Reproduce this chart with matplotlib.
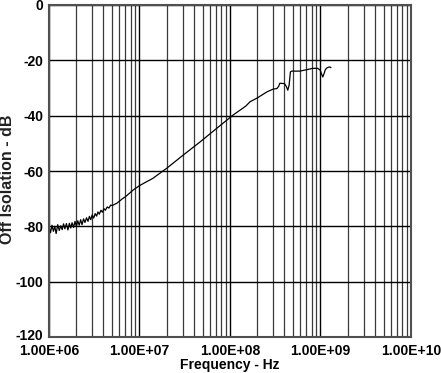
import matplotlib
matplotlib.use("Agg")
import matplotlib.pyplot as plt
from matplotlib.ticker import FixedLocator, FuncFormatter
from matplotlib.transforms import ScaledTranslation

plt.rcParams["font.family"] = ["Liberation Sans", "DejaVu Sans"]

# measured trace: frequency in MHz, off isolation in dB
freq_mhz = [
    1.00, 1.04, 1.08, 1.12, 1.16, 1.20, 1.25, 1.30, 1.35, 1.40, 1.45, 1.50,
    1.56, 1.62, 1.68, 1.74, 1.80, 1.87, 1.94, 2.01, 2.08, 2.16, 2.24, 2.32,
    2.41, 2.50, 2.60, 2.70, 2.80, 2.90, 3.00, 3.12, 3.24, 3.36, 3.48, 3.60,
    3.75, 3.90, 4.05, 4.20, 4.40, 4.60, 4.80, 5.00, 5.65, 6.5, 7.0, 8.5,
    10.0, 12.1, 14.0, 20.2, 30.0, 46.7, 70.0, 108.0, 150.0, 166.0, 200.0,
    256.0, 300.0, 330.0, 345.0, 355.0, 400.0, 420.0, 435.0, 450.0, 465.0,
    480.0, 590.0, 700.0, 820.0, 930.0, 990.0, 1030.0, 1060.0, 1090.0,
    1130.0, 1170.0, 1220.0, 1270.0, 1300.0,
]
isolation_db = [
    -80.2, -82.3, -79.6, -81.8, -80.0, -82.6, -79.4, -81.5, -79.8, -81.2,
    -79.1, -80.9, -79.0, -81.3, -78.9, -80.6, -78.7, -80.4, -78.2, -80.1,
    -78.0, -79.6, -77.6, -79.4, -77.3, -78.6, -76.9, -78.2, -76.4, -77.6,
    -75.9, -77.0, -75.4, -76.3, -74.8, -75.6, -74.2, -74.9, -73.6, -74.2,
    -73.0, -73.4, -72.3, -72.5, -71.6, -70.0, -69.3, -66.9, -65.3, -63.8,
    -62.7, -58.9, -54.4, -49.5, -44.8, -39.8, -36.5, -35.0, -33.6, -31.4,
    -30.4, -30.2, -29.4, -28.3, -28.4, -29.5, -30.8, -29.0, -24.2, -23.9,
    -23.9, -23.4, -22.9, -22.9, -23.5, -25.0, -26.0, -25.0, -23.4, -22.8,
    -22.5, -22.4, -22.6,
]

x_ticks = [1e6, 1e7, 1e8, 1e9, 1e10]
y_ticks = [0, -20, -40, -60, -80, -100, -120]

fig = plt.figure(figsize=(4.41, 3.73), dpi=100)
ax = fig.add_axes([0.111, 0.0965, 0.821, 0.8901])

ax.plot([f * 1e6 for f in freq_mhz], isolation_db, color="black", lw=0.9)

ax.set_xscale("log")
ax.set_xlim(1e6, 1e10)
ax.set_ylim(-120, 0)

# grid on every decade step 1..9
minor = [m * 10 ** e for e in range(6, 10) for m in range(2, 10)]
ax.xaxis.set_major_locator(FixedLocator(x_ticks))
ax.xaxis.set_minor_locator(FixedLocator(minor))
ax.yaxis.set_major_locator(FixedLocator(y_ticks))
ax.xaxis.set_major_formatter(FuncFormatter(lambda v, p: f"{v:.2E}"))
ax.xaxis.set_minor_formatter(FuncFormatter(lambda v, p: ""))
ax.yaxis.set_major_formatter(FuncFormatter(lambda v, p: f"{v:.0f}"))

ax.grid(True, which="major", axis="both", color="black", lw=1.0)
ax.grid(True, which="minor", axis="x", color="#3a3a3a", lw=0.9)
ax.set_axisbelow(True)

ax.tick_params(which="both", length=0)
ax.tick_params(axis="x", pad=5)
ax.tick_params(axis="y", pad=4)
for lbl in ax.get_xticklabels() + ax.get_yticklabels():
    lbl.set_fontsize(10)
    lbl.set_fontweight("bold")

# bottom y label sits a touch above the axis line
low = ax.get_yticklabels()[-1]
low.set_transform(low.get_transform() + ScaledTranslation(0, 3 / 100, fig.dpi_scale_trans))

for s in ax.spines.values():
    s.set_color("#505050")
    s.set_linewidth(1.5)

ax.set_xlabel("Frequency - Hz", fontsize=10, fontweight="bold", labelpad=0)
fig.text(0.016, 0.52, "Off Isolation - dB", rotation=90, ha="center",
         va="center", fontsize=11.5, fontweight="bold", color="#222222")

fig.savefig("out.png", dpi=100)
